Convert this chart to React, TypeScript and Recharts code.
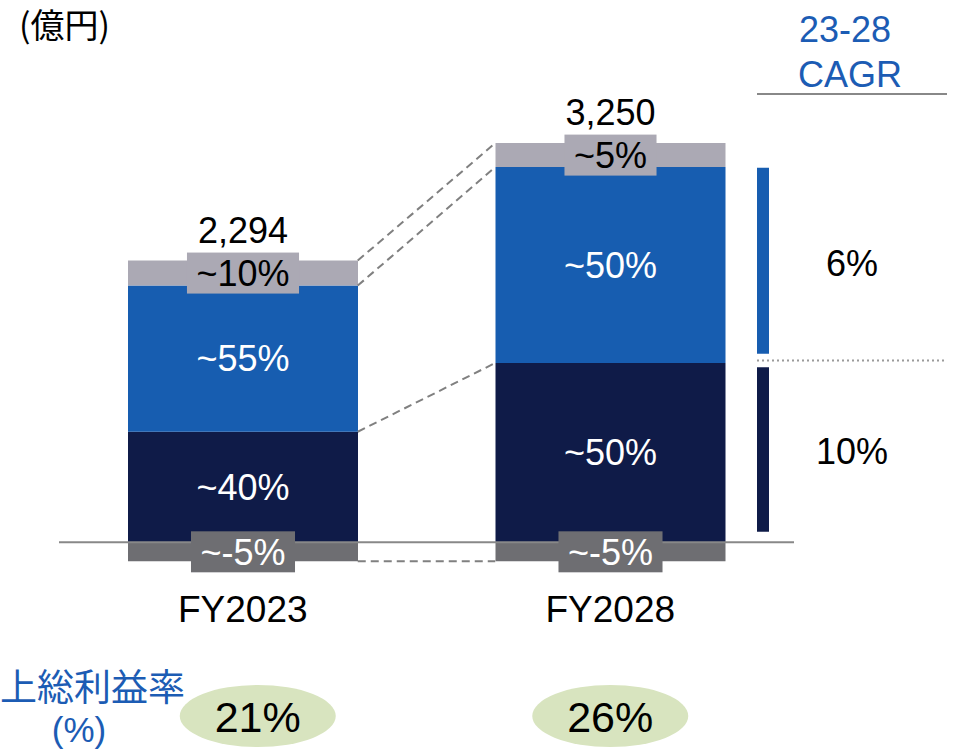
import React from 'react';
import {
  ComposedChart,
  Bar,
  XAxis,
  YAxis,
  ReferenceLine,
  ReferenceArea,
  LabelList,
} from 'recharts';

// ---------- data ----------
const categories = ['FY2023', 'FY2028'];
const totals = [2294, 3250];
const otherNegValues = [-155, -155];
const navyValues = [900, 1460];
const blueValues = [1190, 1595];
const greyValues = [204, 195];
const negLabels = ['~-5%', '~-5%'];
const navyLabels = ['~40%', '~50%'];
const blueLabels = ['~55%', '~50%'];
const greyLabels = ['~10%', '~5%'];
const grossMargins = ['21%', '26%'];
const cagrLabels = ['6%', '10%'];
const cagrBlueRange = [1535, 3050];
const cagrNavyRange = [85, 1425];
const cagrDividerValue = 1480;
const cagrHeaderLineValue = 3650;
const yDomain = [-250, 4000];

// ---------- styles ----------
const W = 955;
const H = 755;
const MARGIN = { top: 51, right: 161, left: 59, bottom: 0 };
const XAXIS_H = 182;
const BAR_SIZE = 230;
const ELLIPSE_DX = [15, 0];
const FONT = '"Liberation Sans", Arial, Helvetica, sans-serif';
const CJK = '"Noto Sans CJK JP", "Noto Sans CJK SC", sans-serif';
const NAVY = '#0f1b48';
const BLUE = '#175db0';
const LIGHT_GREY = '#aba9b4';
const DARK_GREY = '#6e6e72';
const BLUE_TEXT = '#1c5cb4';
const ELLIPSE = '#d8e4bf';
const LINE_GREY = '#888888';
const DASH_GREY = '#808080';

const data = categories.map((name, i) => ({
  name,
  neg: otherNegValues[i],
  navy: navyValues[i],
  blue: blueValues[i],
  grey: greyValues[i],
  total: totals[i],
  negLabel: negLabels[i],
  navyLabel: navyLabels[i],
  blueLabel: blueLabels[i],
  greyLabel: greyLabels[i],
}));

// helper numeric x axis: domain [0, 1] spans the whole plot width
const plotW = W - MARGIN.left - MARGIN.right;
const bandFrac = 1 / categories.length;
const centerOf = (i: number) => (i + 0.5) * bandFrac;
const BAR_HALF = BAR_SIZE / 2 / plotW;
const pxToNum = (px: number) => (px - MARGIN.left) / plotW;

const boundaries = data.map((d) => [d.neg, d.navy, d.navy + d.blue, d.navy + d.blue + d.grey]);

const charW: Record<string, number> = {
  '~': 0.584, '-': 0.333, '%': 0.889, ',': 0.278,
};
const textWidth = (s: string, fs: number) =>
  s.split('').reduce((a, c) => a + (charW[c] ?? 0.556), 0) * fs;

const getBox = (p: any) => {
  const v = p.viewBox ?? {};
  return {
    x: Number(v.x ?? p.x),
    y: Number(v.y ?? p.y),
    width: Number(v.width ?? p.width),
    height: Number(v.height ?? p.height),
  };
};

const innerLabel = (p: any) => {
  const b = getBox(p);
  return (
    <text
      x={b.x + b.width / 2}
      y={b.y + b.height / 2}
      dy="0.355em"
      textAnchor="middle"
      fontSize={36}
      fontFamily={FONT}
      fill="#ffffff"
    >
      {p.value}
    </text>
  );
};

const boxLabel = (fill: string, color: string) => (p: any) => {
  const b = getBox(p);
  const cx = b.x + b.width / 2;
  const cy = b.y + b.height / 2;
  const w = textWidth(String(p.value), 36) + 19;
  return (
    <g>
      <rect x={cx - w / 2} y={cy - 20.5} width={w} height={41} fill={fill} />
      <text x={cx} y={cy} dy="0.355em" textAnchor="middle" fontSize={36} fontFamily={FONT} fill={color}>
        {p.value}
      </text>
    </g>
  );
};

const totalLabel = (p: any) => {
  const b = getBox(p);
  const top = Math.min(b.y, b.y + b.height);
  return (
    <text x={b.x + b.width / 2} y={top - 18} textAnchor="middle" fontSize={36} fontFamily={FONT} fill="#000">
      {Number(p.value).toLocaleString('en-US')}
    </text>
  );
};

const cagrLabel = (text: string) => (p: any) => {
  const b = getBox(p);
  return (
    <text
      x={b.x + b.width + 83}
      y={b.y + b.height / 2 + 2}
      dy="0.355em"
      textAnchor="middle"
      fontSize={36}
      fontFamily={FONT}
      fill="#000"
    >
      {text}
    </text>
  );
};

const CategoryTick = (props: any) => {
  const { x, y, payload } = props;
  const i = categories.indexOf(payload.value);
  const ex = x + (ELLIPSE_DX[i] ?? 0);
  return (
    <g>
      <text x={x} y={y + 49} textAnchor="middle" fontSize={37} fontFamily={FONT} fill="#000">
        {payload.value}
      </text>
      <ellipse cx={ex} cy={y + 143} rx={78} ry={31} fill={ELLIPSE} />
      <text x={ex} y={y + 159} textAnchor="middle" fontSize={43} fontFamily={FONT} fill="#000">
        {grossMargins[i]}
      </text>
    </g>
  );
};

const cagrX1 = pxToNum(757);
const cagrX2 = pxToNum(769);
const cagrLineEnd = pxToNum(947);

export default function App() {
  return (
    <div style={{ position: 'absolute', left: 0, top: 0, width: W, height: H }}>
      <ComposedChart width={W} height={H} data={data} margin={MARGIN} stackOffset="sign">
        <XAxis
          xAxisId="cat"
          dataKey="name"
          height={XAXIS_H}
          axisLine={false}
          tickLine={false}
          tickSize={0}
          tickMargin={0}
          interval={0}
          tick={<CategoryTick />}
        />
        <XAxis xAxisId="num" type="number" domain={[0, 1]} allowDataOverflow hide />
        <YAxis domain={yDomain} allowDataOverflow hide width={0} />

        <Bar xAxisId="cat" dataKey="neg" stackId="s" fill={DARK_GREY} barSize={BAR_SIZE} isAnimationActive={false}>
          <LabelList dataKey="negLabel" content={boxLabel(DARK_GREY, '#ffffff')} />
        </Bar>
        <Bar xAxisId="cat" dataKey="navy" stackId="s" fill={NAVY} barSize={BAR_SIZE} isAnimationActive={false}>
          <LabelList dataKey="navyLabel" content={innerLabel} />
        </Bar>
        <Bar xAxisId="cat" dataKey="blue" stackId="s" fill={BLUE} barSize={BAR_SIZE} isAnimationActive={false}>
          <LabelList dataKey="blueLabel" content={innerLabel} />
        </Bar>
        <Bar xAxisId="cat" dataKey="grey" stackId="s" fill={LIGHT_GREY} barSize={BAR_SIZE} isAnimationActive={false}>
          <LabelList dataKey="greyLabel" content={boxLabel(LIGHT_GREY, '#000000')} />
          <LabelList dataKey="total" content={totalLabel} />
        </Bar>

        <ReferenceLine xAxisId="cat" y={0} stroke={LINE_GREY} strokeWidth={2} ifOverflow="visible" />

        {boundaries[0].map((v, k) => (
          <ReferenceLine
            key={`c${k}`}
            xAxisId="num"
            segment={[
              { x: centerOf(0) + BAR_HALF, y: v },
              { x: centerOf(1) - BAR_HALF, y: boundaries[1][k] },
            ]}
            stroke={DASH_GREY}
            strokeWidth={2}
            strokeDasharray="8 5"
            ifOverflow="visible"
          />
        ))}

        <ReferenceArea
          xAxisId="num"
          x1={cagrX1}
          x2={cagrX2}
          y1={cagrBlueRange[0]}
          y2={cagrBlueRange[1]}
          fill={BLUE}
          fillOpacity={1}
          stroke="none"
          ifOverflow="visible"
          label={cagrLabel(cagrLabels[0])}
        />
        <ReferenceArea
          xAxisId="num"
          x1={cagrX1}
          x2={cagrX2}
          y1={cagrNavyRange[0]}
          y2={cagrNavyRange[1]}
          fill={NAVY}
          fillOpacity={1}
          stroke="none"
          ifOverflow="visible"
          label={cagrLabel(cagrLabels[1])}
        />
        <ReferenceLine
          xAxisId="num"
          segment={[
            { x: cagrX1, y: cagrDividerValue },
            { x: cagrLineEnd, y: cagrDividerValue },
          ]}
          stroke="#9a9a9a"
          strokeWidth={2}
          strokeDasharray="2 3"
          ifOverflow="visible"
        />
        <ReferenceLine
          xAxisId="num"
          segment={[
            { x: cagrX1, y: cagrHeaderLineValue },
            { x: cagrLineEnd, y: cagrHeaderLineValue },
          ]}
          stroke={LINE_GREY}
          strokeWidth={2}
          ifOverflow="visible"
        />
      </ComposedChart>
      <svg
        width={W}
        height={H}
        style={{ position: 'absolute', left: 0, top: 0, pointerEvents: 'none' }}
      >
        <text x={19} y={38} fontSize={34} fontFamily={CJK} fill="#000">(億円)</text>
        <text x={799} y={42} fontSize={36} fontFamily={FONT} fill={BLUE_TEXT}>23-28</text>
        <text x={798} y={87} fontSize={36} fontFamily={FONT} fill={BLUE_TEXT}>CAGR</text>
        <text x={0} y={701} fontSize={37} fontFamily={CJK} fill={BLUE_TEXT}>上総利益率</text>
        <text x={79} y={742} fontSize={35} fontFamily={FONT} textAnchor="middle" fill={BLUE_TEXT}>(%)</text>
      </svg>
    </div>
  );
}
